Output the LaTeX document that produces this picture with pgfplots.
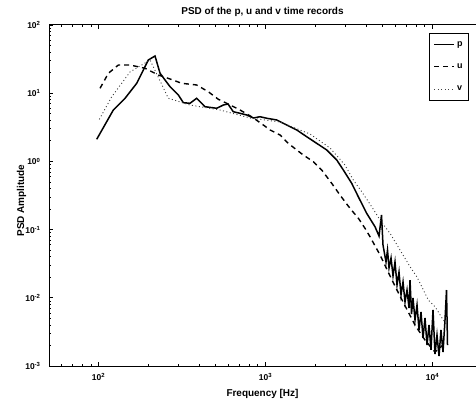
\documentclass[border=0pt]{standalone}
\usepackage{pgfplots}
\pgfplotsset{compat=1.18}
\usepackage{fontspec}
\setmainfont{Liberation Sans}
\begin{document}
\begin{tikzpicture}
\begin{axis}[
  at={(0,0)}, anchor=south west,
  scale only axis, width=427bp, height=341bp,
  xmode=log, ymode=log, log basis x=10, log basis y=10,
  xmin=50.5, xmax=18220, ymin=1e-3, ymax=1e2,
  axis x line=box, axis y line=left,
  axis line style={-, line width=1bp},
  tick align=inside, major tick length=4bp, minor tick length=2.5bp,
  every tick/.style={black, line width=0.8bp},
  xticklabel={\pgfmathtruncatemacro\e{round(\tick)}10\textsuperscript{\e}},
  yticklabel={\pgfmathtruncatemacro\e{round(\tick)}10\textsuperscript{\e}},
  tick label style={font=\fontsize{8.5}{10}\selectfont\bfseries},
  xticklabel style={yshift=-4bp},
  yticklabel style={xshift=-5bp},
  title={PSD of the p, u and v time records},
  title style={at={(rel axis cs:0.5,1)}, anchor=base, yshift=5bp, font=\fontsize{10}{12}\selectfont\bfseries},
  xlabel={Frequency [Hz]},
  xlabel style={at={(rel axis cs:0.5,0)}, anchor=base, yshift=-30bp, font=\fontsize{10}{12}\selectfont\bfseries},
  ylabel={PSD Amplitude},
  ylabel style={at={(axis description cs:-0.0585,0.485)}, anchor=base, rotate=0, font=\fontsize{10}{12}\selectfont\bfseries},
  legend style={at={(rel axis cs:0.984,0.977)}, anchor=north east, draw=black, line width=1bp,
    font=\fontsize{9}{10}\selectfont\bfseries, inner xsep=4bp, inner ysep=6bp, row sep=12bp, cells={anchor=west}},
  legend image code/.code={\draw[#1] (0bp,0bp) -- (20bp,0bp);},
]
\addplot[black, line width=1.5bp] coordinates {
(97.5,2.11) (122.6,5.67) (144.1,8.42) (169.3,13.97) (189.8,24.5) (198.7,30.7)
(217.9,35.1) (233.5,19.6) (268.0,12.45) (300.5,9.42) (322,7.26) (353,7.11)
(387,8.42) (434,6.34) (510,6.01) (559,6.71) (596,6.95) (641,5.35) (704,5.07)
(772,4.79) (845,4.33) (927,4.52) (1017,4.29) (1167,4.05) (1340,3.42) (1538,2.89)
(1765,2.30) (2026,1.84) (2326,1.47) (2669,1.05) (2924,0.748) (3282,0.477)
(3596,0.303) (4036,0.173) (4527,0.110) (4783,0.0805) (4950,0.164) (5053,0.0594)
(5267,0.0335) (5377,0.0502) (5491,0.0274) (5645,0.0384) (5802,0.0209) (5963,0.0335)
(6131,0.0154) (6302,0.0239) (6479,0.0110) (6660,0.0171) (6845,0.00867) (7037,0.0130)
(7234,0.00708) (7334,0.0182) (7488,0.00578) (7643,0.00993) (7858,0.00472) (8077,0.00784)
(8304,0.00337) (8534,0.00619) (8774,0.00257) (9019,0.00506) (9272,0.00203) (9529,0.00399)
(9795,0.00172) (10070,0.00662) (10350,0.00150) (10640,0.00285) (10940,0.00140) (11240,0.00337)
(11560,0.00160) (11880,0.00472) (12130,0.0130) (12300,0.00203)
};
\addplot[black, line width=1.4bp, dash pattern=on 5bp off 4bp] coordinates {
(102.1,11.8) (114.5,19.6) (131.4,25.9) (154.4,25.9) (189.8,23.2) (228.1,18.5)
(261.8,16.5) (315,13.97) (387,13.2) (454.5,10.5) (521.8,8.14) (586,7.11)
(704,5.67) (830,4.48) (970,3.42) (1064,2.89) (1221,2.44) (1369,1.84) (1538,1.47)
(1684,1.24) (1933,0.99) (2170,0.748) (2491,0.477) (2793,0.321) (3206,0.205)
(3596,0.147) (3943,0.1045) (4224,0.0787) (4850,0.0425) (5722,0.0182) (6569,0.00929)
(7858,0.00399) (9020,0.00240) (10350,0.00160) (11560,0.00203)
};
\addplot[black!75, line width=0.9bp, dash pattern=on 1bp off 2.5bp] coordinates {
(101.1,4.14) (120,8.89) (154.4,20.5) (203.4,30.7) (261.8,8.42) (353,6.71)
(534,5.67) (808,4.33) (1221,3.78) (1847,2.52) (2434,1.57) (2992,0.885)
(3356,0.533) (3767,0.360) (4325,0.217) (4850,0.138) (5567,0.0883) (6390,0.0502)
(7334,0.0286) (8043,0.0204) (8616,0.0146) (9439,0.00929) (10350,0.00741)
(11400,0.00506) (12210,0.00399)
};
\legend{p,u,v}
\end{axis}
\pgfresetboundingbox
\path[use as bounding box] (-49bp,-34bp) rectangle (427bp,366bp);
\end{tikzpicture}
\end{document}
